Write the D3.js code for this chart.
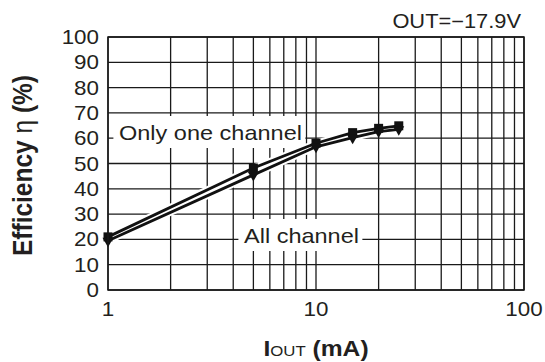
<!DOCTYPE html>
<html>
<head>
<meta charset="utf-8">
<script src="https://cdn.jsdelivr.net/npm/d3@7"></script>
<style>
  body { margin: 0; background: #fff; }
  text { font-family: "Liberation Sans", Arial, sans-serif; fill: #231f20; }
</style>
</head>
<body>
<div id="chart"></div>
<script>
// data
var currentMA = [1, 5, 10, 15, 20, 25];
var oneChannel = [21, 48.2, 58, 62.2, 63.9, 64.9];
var allChannel = [19.5, 45.5, 56.6, 60.2, 62.6, 63.5];
var xTickLabels = [1, 10, 100];
var yTickLabels = [0, 10, 20, 30, 40, 50, 60, 70, 80, 90, 100];

(function () {
    var W = 545, H = 362;
    var margin = { top: 37, right: 21, bottom: 72, left: 108 },
        width = W - margin.left - margin.right,
        height = H - margin.top - margin.bottom;
    var sx = 1.12; // the scan is a little wider than tall

    var svg = d3.select("#chart").append("svg")
        .attr("width", W).attr("height", H);
    var g = svg.append("g")
        .attr("transform", "translate(" + margin.left + "," + margin.top + ")");

    var x = d3.scaleLog().domain([1, 100]).range([0, width]);
    var y = d3.scaleLinear().domain([0, 100]).range([height, 0]);

    // grid
    g.selectAll(".vgrid").data(x.ticks()).enter().append("line")
        .attr("x1", function (d) { return x(d); }).attr("x2", function (d) { return x(d); })
        .attr("y1", 0).attr("y2", height)
        .attr("stroke", "#1a1a1a").attr("stroke-width", 1.3);
    g.selectAll(".hgrid").data(yTickLabels).enter().append("line")
        .attr("x1", 0).attr("x2", width)
        .attr("y1", function (d) { return y(d); }).attr("y2", function (d) { return y(d); })
        .attr("stroke", "#1a1a1a").attr("stroke-width", 1.3);

    // stretched text helper
    function label(parent, tx, ty, str, size, anchor, weight) {
        return parent.append("text")
            .attr("transform", "translate(" + tx + "," + ty + ") scale(" + sx + ",1)")
            .attr("text-anchor", anchor)
            .style("font-size", size + "px")
            .style("font-weight", weight || "normal")
            .text(str);
    }

    // tick labels
    yTickLabels.forEach(function (d) {
        label(g, -9, y(d) + 7, d, 20, "end");
    });
    xTickLabels.forEach(function (d) {
        label(g, x(d), height + 26, d, 20, "middle");
    });

    // boxed curve labels
    function boxLabel(cx0, cy, str) {
        var lg = g.append("g")
            .attr("transform", "translate(" + cx0 + "," + cy + ") scale(" + sx + ",1)");
        var rect = lg.append("rect").attr("fill", "#fff");
        var t = lg.append("text").attr("x", 0).attr("y", 7.5)
            .style("font-size", "21px").text(str);
        var bb = t.node().getBBox();
        rect.attr("x", bb.x - 5).attr("y", -16)
            .attr("width", bb.width + 8).attr("height", 32);
    }
    boxLabel(119 - margin.left, 132 - margin.top, "Only one channel");
    boxLabel(244 - margin.left, 235 - margin.top, "All channel");

    // curves
    function series(vals) {
        var pts = currentMA.map(function (c, i) { return [c, vals[i]]; });
        var line = d3.line()
            .x(function (d) { return x(d[0]); })
            .y(function (d) { return y(d[1]); });
        g.append("path").datum(pts)
            .attr("fill", "none").attr("stroke", "#fff").attr("stroke-width", 7)
            .attr("d", line);
        return { pts: pts, line: line };
    }
    var s1 = series(oneChannel);
    var s2 = series(allChannel);
    [s1, s2].forEach(function (s) {
        g.append("path").datum(s.pts)
            .attr("fill", "none").attr("stroke", "#111").attr("stroke-width", 2.8)
            .attr("stroke-linejoin", "round")
            .attr("d", s.line);
    });
    g.selectAll(".sq").data(s1.pts).enter().append("rect")
        .attr("x", function (d) { return x(d[0]) - 4.5; })
        .attr("y", function (d) { return y(d[1]) - 4.5; })
        .attr("width", 9).attr("height", 9)
        .attr("fill", "#111");
    g.selectAll(".tri").data(s2.pts).enter().append("path")
        .attr("transform", function (d) { return "translate(" + x(d[0]) + "," + y(d[1]) + ")"; })
        .attr("d", "M-5.5,-3L5.5,-3L0,6.5Z")
        .attr("fill", "#111");

    // frame
    g.append("rect").attr("width", width).attr("height", height)
        .attr("fill", "none").attr("stroke", "#1a1a1a").attr("stroke-width", 1.5);

    // condition note
    label(svg, 521, 28, "OUT=\u221217.9V", 19.5, "end");

    // axis titles
    var xt = svg.append("text")
        .attr("transform", "translate(" + (margin.left + x(10)) + ",356) scale(" + sx + ",1)")
        .attr("text-anchor", "middle")
        .style("font-size", "22px").style("font-weight", "bold");
    xt.append("tspan").text("I");
    xt.append("tspan").style("font-size", "15px").style("font-weight", "normal").text("OUT");
    xt.append("tspan").text(" (mA)");

    var yt = svg.append("text")
        .attr("transform", "translate(32," + (margin.top + height / 2 + 2) + ") rotate(-90) scale(1," + sx + ")")
        .attr("text-anchor", "middle")
        .style("font-size", "24.5px").style("font-weight", "bold");
    yt.append("tspan").text("Efficiency ");
    yt.append("tspan").style("font-weight", "normal").text("\u03b7");
    yt.append("tspan").text(" (%)");
})();
</script>
</body>
</html>
